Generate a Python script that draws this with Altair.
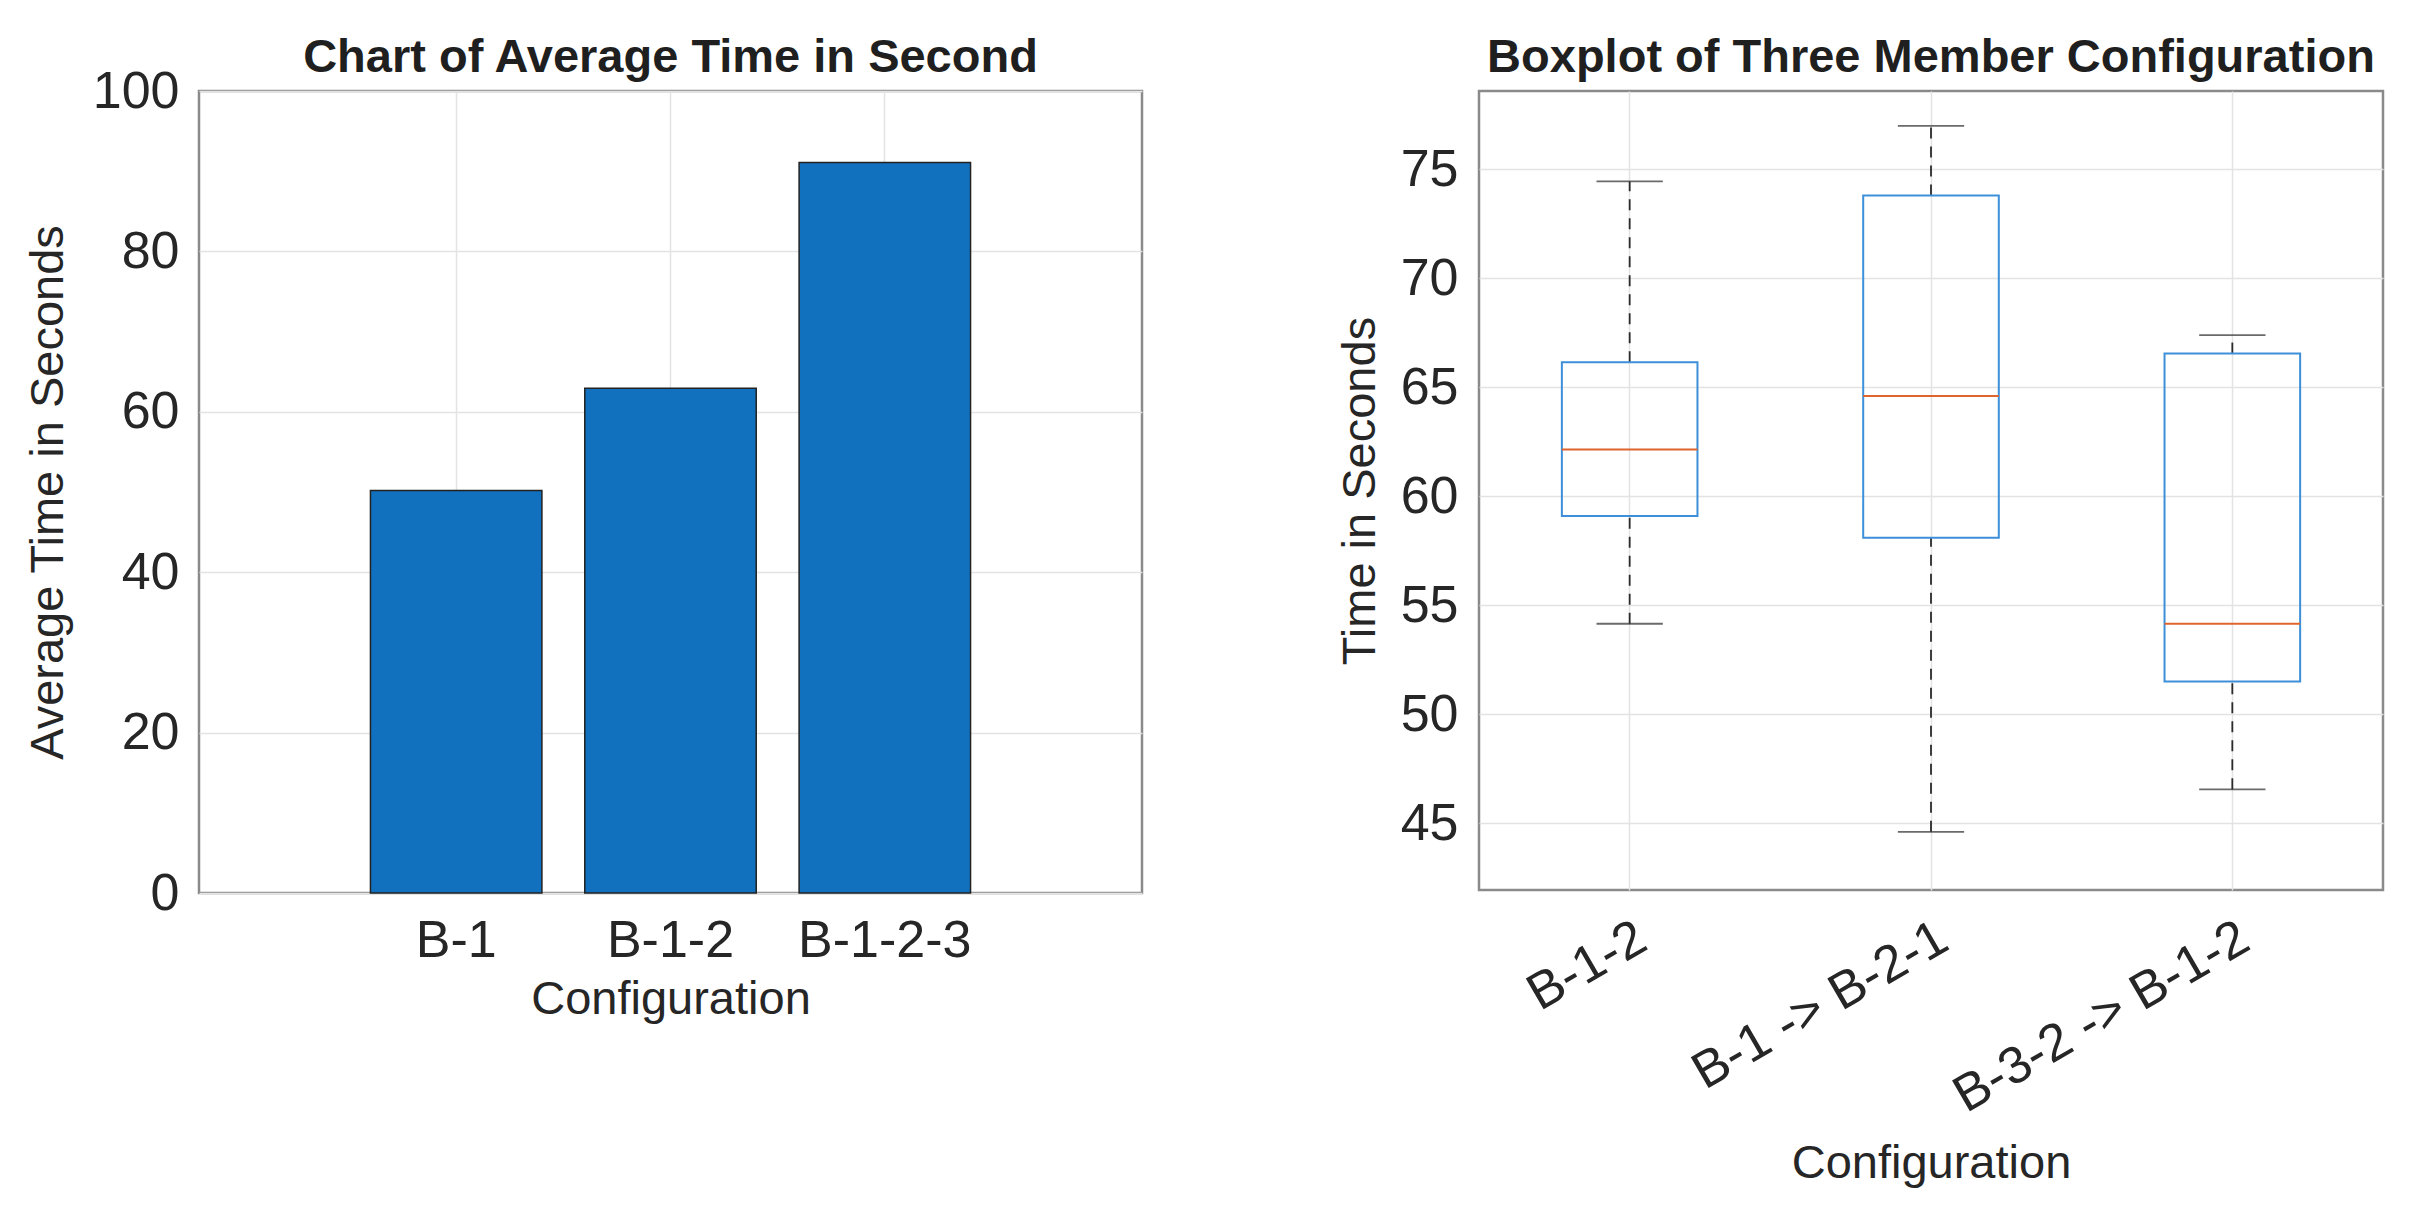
import altair as alt
import pandas as pd

# ---- data ----
bar_categories = ["B-1", "B-1-2", "B-1-2-3"]
bar_values = [50.2, 62.95, 91.1]

box_categories = ["B-1-2", "B-1 -> B-2-1", "B-3-2 -> B-1-2"]
whisker_low = [54.15, 44.6, 46.55]
q1 = [59.1, 58.1, 51.5]
median = [62.15, 64.6, 54.15]
q3 = [66.15, 73.8, 66.55]
whisker_high = [74.45, 77.0, 67.4]

bar_ticks = [0, 20, 40, 60, 80, 100]
box_ticks = [45, 50, 55, 60, 65, 70, 75]

FONT = "Liberation Sans"
TXT = "#262626"
GRID = "#e3e3e3"

bar_df = pd.DataFrame({"cat": bar_categories, "val": bar_values})
box_df = pd.DataFrame({
    "cat": box_categories,
    "lo": whisker_low,
    "q1": q1,
    "med": median,
    "q3": q3,
    "hi": whisker_high,
})

# ---- left: bar chart ----
LW, LH = 943, 802
left = alt.Chart(bar_df).mark_bar(
    color="#1271BE", stroke="#222222", strokeWidth=1.5
).encode(
    x=alt.X("cat:N", sort=bar_categories,
            scale=alt.Scale(paddingInner=0.2, paddingOuter=0.8),
            axis=alt.Axis(title="Configuration", labelAngle=0, bandPosition=0.5,
                          grid=True, ticks=False, domain=False,
                          labelPadding=22, titlePadding=10)),
    y=alt.Y("val:Q", scale=alt.Scale(domain=[0, 100], nice=False),
            axis=alt.Axis(title="Average Time in Seconds", values=bar_ticks,
                          grid=True, ticks=False, domain=False,
                          labelPadding=20, titlePadding=20)),
).properties(
    width=LW, height=LH,
    title=alt.TitleParams("Chart of Average Time in Second", offset=-17),
)

# ---- right: boxplot ----
RW, RH = 904, 799
step = RW / 3.0
xenc = alt.X("cat:N", sort=box_categories,
             scale=alt.Scale(paddingInner=0, paddingOuter=0),
             axis=alt.Axis(title="Configuration", labelAngle=330, bandPosition=0.5,
                           labelAlign="right", labelBaseline="top",
                           grid=True, ticks=False, domain=False,
                           labelPadding=22, titlePadding=50))
yscale = alt.Scale(domain=[41.93, 78.6], nice=False, zero=False)
yaxis = alt.Axis(title="Time in Seconds", values=box_ticks, grid=True,
                 ticks=False, domain=False, labelPadding=21, titlePadding=16)

base = alt.Chart(box_df)
dash = [11, 8]
WCOL = "#2b2b2b"
w_low = base.mark_rule(color=WCOL, strokeWidth=1.8, strokeDash=dash).encode(
    x=xenc, y=alt.Y("lo:Q", scale=yscale, axis=yaxis), y2="q1:Q")
w_high = base.mark_rule(color=WCOL, strokeWidth=1.8, strokeDash=dash).encode(
    x=xenc, y=alt.Y("q3:Q", scale=yscale, axis=yaxis), y2="hi:Q")
cap_low = base.mark_tick(color=WCOL, size=0.22 * step, thickness=1.8).encode(
    x=xenc, y=alt.Y("lo:Q", scale=yscale, axis=yaxis))
cap_high = base.mark_tick(color=WCOL, size=0.22 * step, thickness=1.8).encode(
    x=xenc, y=alt.Y("hi:Q", scale=yscale, axis=yaxis))
box = base.mark_bar(fillOpacity=0, fill="white", stroke="#3C8FD8", strokeWidth=2,
                    width=alt.RelativeBandSize(0.45)).encode(
    x=xenc, y=alt.Y("q1:Q", scale=yscale, axis=yaxis), y2="q3:Q")
med = base.mark_tick(color="#E0652C", opacity=1, size=0.45 * step, thickness=2).encode(
    x=xenc, y=alt.Y("med:Q", scale=yscale, axis=yaxis))

right = alt.layer(w_low, w_high, cap_low, cap_high, box, med).properties(
    width=RW, height=RH,
    title=alt.TitleParams("Boxplot of Three Member Configuration", offset=9),
)

chart = alt.hconcat(left, right, spacing=190).properties(
    padding={"left": 14, "top": 24, "right": 5, "bottom": 5},
    background="white",
).configure_view(
    stroke="#8a8a8a", strokeWidth=2.5,
).configure_axis(
    labelFont=FONT, labelFontSize=52, labelColor=TXT, labelLimit=0,
    titleFont=FONT, titleFontSize=47, titleFontWeight="normal", titleColor=TXT,
    gridColor=GRID, gridWidth=1.5,
).configure_title(
    font=FONT, fontSize=47, fontWeight="bold", color="#1f1f1f",
    anchor="middle",
)

chart.save("out.html", embed_options={"renderer": "svg", "actions": False})
